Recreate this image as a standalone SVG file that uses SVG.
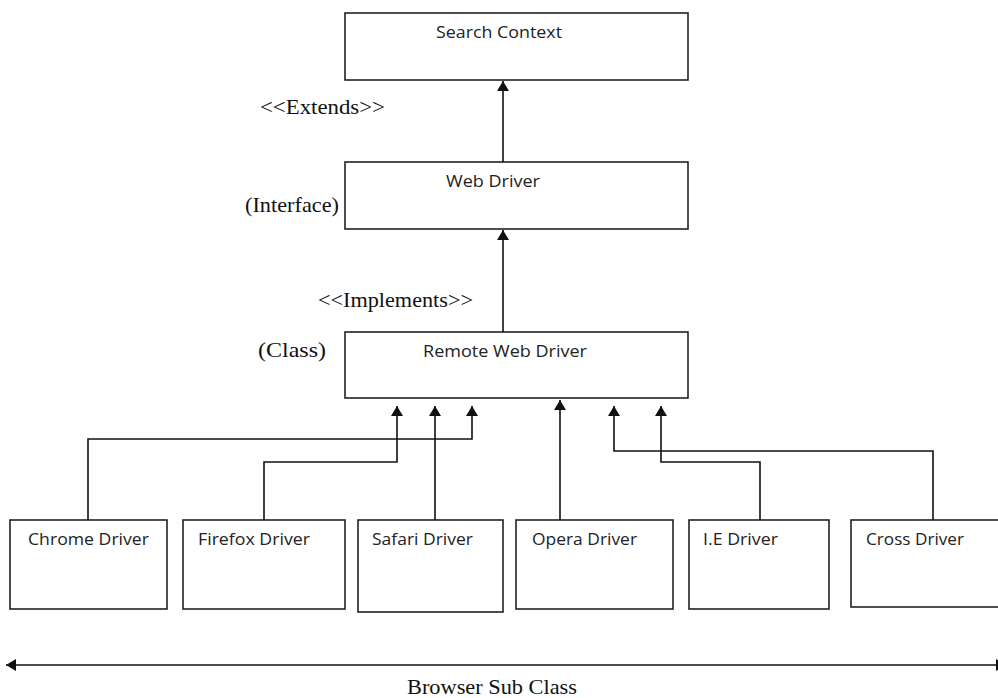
<svg xmlns="http://www.w3.org/2000/svg" width="998" height="698" viewBox="0 0 998 698">
<defs>
<marker id="arr" viewBox="0 0 10 12" refX="10" refY="6" markerWidth="10" markerHeight="12" markerUnits="userSpaceOnUse" orient="auto-start-reverse">
<path d="M0,0 L10,6 L0,12 Z" fill="#111"/>
</marker>
<style>
.box{fill:#fff;stroke:#222;stroke-width:1.6}
.lbl{font-family:"Open Sans","Noto Sans","Liberation Sans",sans-serif;font-size:17px;fill:#222}
.ser{font-family:"Liberation Serif","Times New Roman",serif;font-size:22px;fill:#111}
.con{fill:none;stroke:#111;stroke-width:1.6}
</style>
</defs>
<rect width="998" height="698" fill="#fff"/>

<g id="search-context">
<rect class="box" x="345" y="13" width="343" height="67"/>
<text class="lbl" x="436" y="38" textLength="126" lengthAdjust="spacingAndGlyphs">Search Context</text>
</g>
<g id="web-driver">
<rect class="box" x="345" y="162" width="343" height="67"/>
<text class="lbl" x="446" y="187" textLength="94" lengthAdjust="spacingAndGlyphs">Web Driver</text>
</g>
<g id="remote-web-driver">
<rect class="box" x="345" y="332" width="343" height="66"/>
<text class="lbl" x="423" y="357" textLength="164" lengthAdjust="spacingAndGlyphs">Remote Web Driver</text>
</g>
<g id="chrome-driver">
<rect class="box" x="10" y="520" width="157" height="89"/>
<text class="lbl" x="28" y="545" textLength="121" lengthAdjust="spacingAndGlyphs">Chrome Driver</text>
</g>
<g id="firefox-driver">
<rect class="box" x="183" y="520" width="162" height="89"/>
<text class="lbl" x="198" y="545" textLength="112" lengthAdjust="spacingAndGlyphs">Firefox Driver</text>
</g>
<g id="safari-driver">
<rect class="box" x="358" y="520" width="145" height="92"/>
<text class="lbl" x="372" y="545" textLength="101" lengthAdjust="spacingAndGlyphs">Safari Driver</text>
</g>
<g id="opera-driver">
<rect class="box" x="516" y="520" width="157" height="89"/>
<text class="lbl" x="532" y="545" textLength="105" lengthAdjust="spacingAndGlyphs">Opera Driver</text>
</g>
<g id="ie-driver">
<rect class="box" x="689" y="520" width="140" height="89"/>
<text class="lbl" x="703" y="545" textLength="75" lengthAdjust="spacingAndGlyphs">I.E Driver</text>
</g>
<g id="cross-driver">
<rect class="box" x="851" y="520" width="160" height="87"/>
<text class="lbl" x="866" y="545" textLength="98" lengthAdjust="spacingAndGlyphs">Cross Driver</text>
</g>

<g id="labels">
<text class="ser" x="260" y="114" textLength="125" lengthAdjust="spacingAndGlyphs">&lt;&lt;Extends&gt;&gt;</text>
<text class="ser" x="245" y="212" textLength="94" lengthAdjust="spacingAndGlyphs">(Interface)</text>
<text class="ser" x="318" y="307" textLength="155" lengthAdjust="spacingAndGlyphs">&lt;&lt;Implements&gt;&gt;</text>
<text class="ser" x="258" y="357" textLength="68" lengthAdjust="spacingAndGlyphs">(Class)</text>
<text class="ser" x="407" y="694" textLength="170" lengthAdjust="spacingAndGlyphs">Browser Sub Class</text>
</g>

<g id="connectors">
<path class="con" d="M503,162 V81" marker-end="url(#arr)"/>
<path class="con" d="M503,332 V230" marker-end="url(#arr)"/>
<path class="con" d="M88,520 V439 H472 V406" marker-end="url(#arr)"/>
<path class="con" d="M264,520 V462 H397 V406" marker-end="url(#arr)"/>
<path class="con" d="M435,520 V406" marker-end="url(#arr)"/>
<path class="con" d="M560,520 V400" marker-end="url(#arr)"/>
<path class="con" d="M760,520 V462 H661 V406" marker-end="url(#arr)"/>
<path class="con" d="M933,520 V451 H614 V406" marker-end="url(#arr)"/>
<path class="con" d="M6,665 H1006" marker-start="url(#arr)" marker-end="url(#arr)"/>
</g>
</svg>
